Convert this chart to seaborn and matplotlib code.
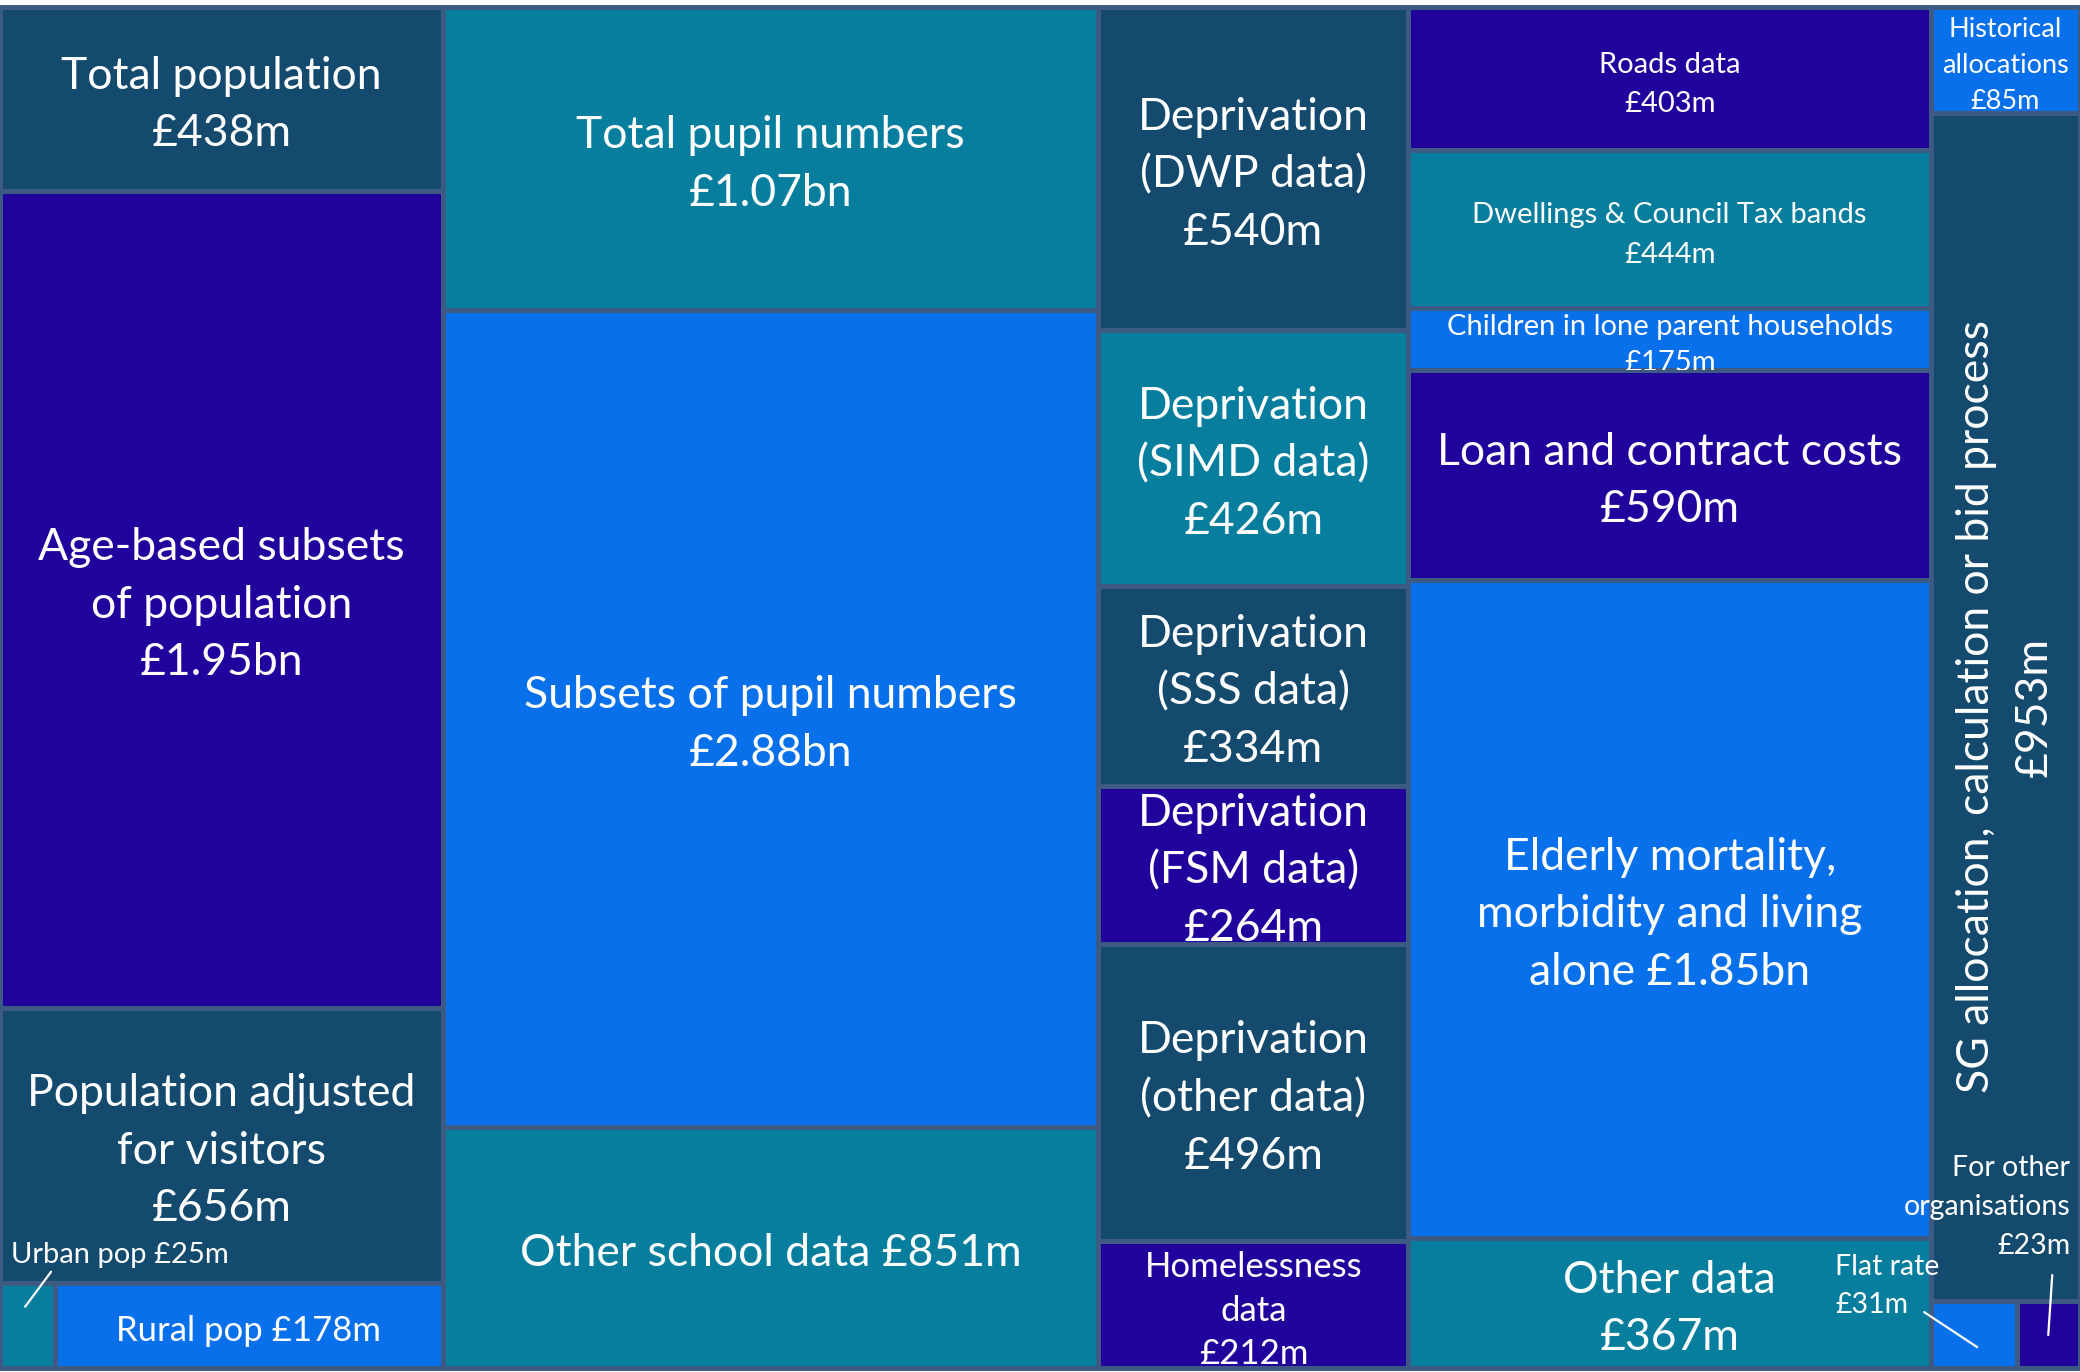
import matplotlib.pyplot as plt
import seaborn as sns

# treemap data (values in £m), grouped into columns; rows index stacks cells top to bottom
pop_labels = ["Total population\n£438m", "Age-based subsets\nof population\n£1.95bn",
              "Population adjusted\nfor visitors\n£656m", "Urban pop £25m", "Rural pop £178m"]
pop_values = [438, 1950, 656, 25, 178]
pop_rows = [0, 1, 2, 3, 3]

pupil_labels = ["Total pupil numbers\n£1.07bn", "Subsets of pupil numbers\n£2.88bn",
                "Other school data £851m"]
pupil_values = [1070, 2880, 851]
pupil_rows = [0, 1, 2]

depr_labels = ["Deprivation\n(DWP data)\n£540m", "Deprivation\n(SIMD data)\n£426m",
               "Deprivation\n(SSS data)\n£334m", "Deprivation\n(FSM data)\n£264m",
               "Deprivation\n(other data)\n£496m", "Homelessness\ndata\n£212m"]
depr_values = [540, 426, 334, 264, 496, 212]
depr_rows = [0, 1, 2, 3, 4, 5]

misc_labels = ["Roads data\n£403m", "Dwellings & Council Tax bands\n£444m",
               "Children in lone parent households\n£175m", "Loan and contract costs\n£590m",
               "Elderly mortality,\nmorbidity and living\nalone £1.85bn", "Other data\n£367m"]
misc_values = [403, 444, 175, 590, 1850, 367]
misc_rows = [0, 1, 2, 3, 4, 5]

sg_labels = ["Historical\nallocations\n£85m", "SG allocation, calculation or bid process\n£953m",
             "Flat rate\n£31m", "For other\norganisations\n£23m"]
sg_values = [85, 953, 31, 23]
sg_rows = [0, 1, 2, 2]

# colours
SLATE = '#144A6E'
INDIGO = '#21029D'
BLUE = '#0870EA'
TEAL = '#077E9E'
EDGE = '#3D5B82'

pop_colors = [SLATE, INDIGO, SLATE, TEAL, BLUE]
pupil_colors = [TEAL, BLUE, TEAL]
depr_colors = [SLATE, TEAL, SLATE, INDIGO, SLATE, INDIGO]
misc_colors = [INDIGO, TEAL, BLUE, INDIGO, BLUE, TEAL]
sg_colors = [BLUE, SLATE, BLUE, INDIGO]

columns = [
    (pop_labels, pop_values, pop_rows, pop_colors),
    (pupil_labels, pupil_values, pupil_rows, pupil_colors),
    (depr_labels, depr_values, depr_rows, depr_colors),
    (misc_labels, misc_values, misc_rows, misc_colors),
    (sg_labels, sg_values, sg_rows, sg_colors),
]

# font size, line spacing per label (default = big)
BIG = (32, 1.5)
styles = {
    "Roads data\n£403m": (21, 1.65),
    "Dwellings & Council Tax bands\n£444m": (21, 1.65),
    "Children in lone parent households\n£175m": (21, 1.45),
    "Historical\nallocations\n£85m": (19.5, 1.55),
    "Homelessness\ndata\n£212m": (25, 1.45),
    "Rural pop £178m": (25, 1.45),
}
outside = ["Urban pop £25m", "Flat rate\n£31m", "For other\norganisations\n£23m"]

sns.set_theme(style="white")
plt.rcParams['font.family'] = ['Lato', 'DejaVu Sans']

fig = plt.figure(figsize=(20.8, 13.72), dpi=100)
ax = fig.add_axes([0, 4 / 1372, 1, 1361 / 1372])

total = sum(sum(c[1]) for c in columns)
cells = {}
x0 = 0
for labels, values, rows, colors in columns:
    csum = sum(values)
    y0 = 0
    for r in sorted(set(rows)):
        idx = [i for i, rr in enumerate(rows) if rr == r]
        rsum = sum(values[i] for i in idx)
        rh = rsum / csum
        xx = x0
        for i in idx:
            w = values[i] / rsum * csum
            bars = ax.bar(xx, rh, width=w, bottom=y0, align='edge', color=colors[i],
                          edgecolor=EDGE, linewidth=3.6, clip_on=False)
            cells[labels[i]] = (xx, y0, w, rh, bars[0])
            xx += w
        y0 += rh
    x0 += csum

for lab, (cx, cy, cw, ch, patch) in cells.items():
    if lab in outside:
        continue
    fs, ls = styles.get(lab, BIG)
    rot = 90 if lab.startswith("SG allocation") else 0
    shift = (0, 0) if rot else (0, -6)
    t = ax.annotate(lab, xy=(cx + cw / 2, cy + ch / 2), xytext=shift, textcoords='offset pixels',
                    ha='center', va='center', color='white', fontsize=fs, rotation=rot,
                    linespacing=ls)
    t.set_clip_path(patch)


def leader(lab, fx, fy, start, text_off, ha, fs):
    cx, cy, cw, ch, _ = cells[lab]
    end = (cx + cw * fx, cy + ch * fy)
    ax.annotate('', xy=end, xytext=start, textcoords='offset pixels',
                arrowprops=dict(arrowstyle='-', color='white', lw=1.6, shrinkA=0, shrinkB=0),
                annotation_clip=False)
    ax.annotate(lab, xy=end, xytext=text_off, textcoords='offset pixels', ha=ha, va='center',
                color='white', fontsize=fs, linespacing=1.6, annotation_clip=False)


leader("Urban pop £25m", 0.46, 0.28, (26, 35), (-14, 52), 'left', 21)
leader("Flat rate\n£31m", 0.54, 0.69, (-53, 35), (-142, 61), 'left', 20.5)
leader("For other\norganisations\n£23m", 0.5, 0.51, (4, 60), (22, 128), 'right', 20.5)

ax.set_xlim(0, total)
ax.set_ylim(1, 0)
ax.axis('off')

plt.savefig('out.png', dpi=100, facecolor='white')
